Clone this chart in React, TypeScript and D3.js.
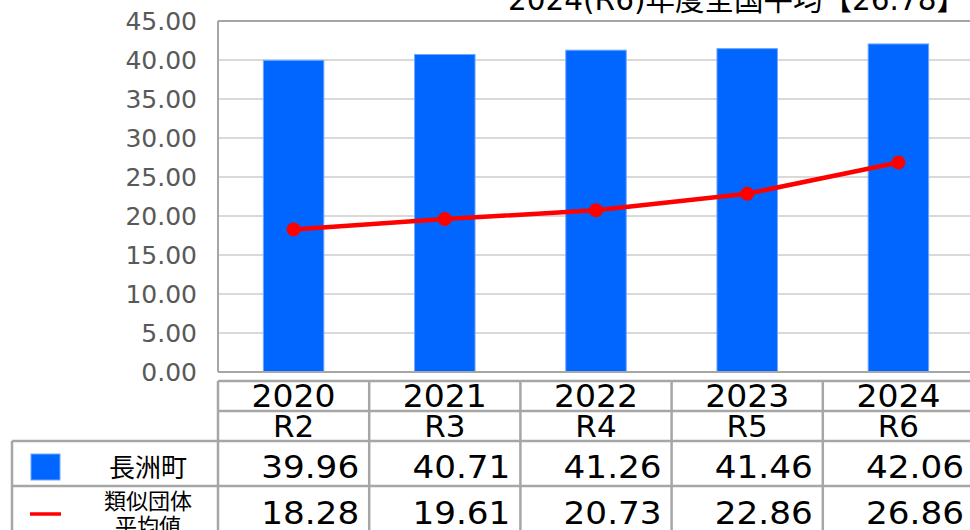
import React from "react";
import * as d3 from "d3";

const years = ["2020", "2021", "2022", "2023", "2024"];
const eras = ["R2", "R3", "R4", "R5", "R6"];
const townValues = [39.96, 40.71, 41.26, 41.46, 42.06];
const avgValues = [18.28, 19.61, 20.73, 22.86, 26.86];
const yTicks = [0, 5, 10, 15, 20, 25, 30, 35, 40, 45];
const seriesNames = ["長洲町", "類似団体\n平均値"];
const title = "2024(R6)年度全国平均【26.78】";

const W = 970;
const H = 530;
const plotLeft = 218;
const plotRight = 974;
const plotTop = 21;
const plotBottom = 372;

const FONT = "'DejaVu Sans', 'Noto Sans CJK JP', sans-serif";
const GRID = "#d9d9d9";
const BORDER = "#a6a6a6";
const BLUE = "#0066ff";
const RED = "#ff0000";

export default function App() {
  const x = d3.scaleBand<string>().domain(years).range([plotLeft, plotRight]).padding(0);
  const y = d3.scaleLinear().domain([0, 45]).range([plotBottom, plotTop]);
  const bw = x.bandwidth();
  const barW = bw * 0.4;
  const cx = (yr: string) => (x(yr) as number) + bw / 2;

  const line = d3
    .line<number>()
    .x((_, i) => cx(years[i]))
    .y((v) => y(v));

  const row1Top = 381;
  const row2Top = 411;
  const row3Top = 441;
  const row4Top = 486;
  const row4Bot = 531;
  const legendLeft = 12;

  return (
    <svg
      width={W}
      height={H}
      style={{ position: "absolute", left: 0, top: 0, background: "#fff" }}
      fontFamily={FONT}
    >
      <rect x={0} y={0} width={W} height={H} fill="#fff" />
      {/* title */}
      <text x={966} y={10} fontSize={29.5} textAnchor="end" fill="#000" textLength={458} lengthAdjust="spacingAndGlyphs">
        {title}
      </text>
      {/* grid */}
      {yTicks.map((t) => (
        <line key={t} x1={plotLeft} x2={plotRight} y1={y(t)} y2={y(t)} stroke={GRID} strokeWidth={2} />
      ))}
      {/* y labels */}
      {yTicks.map((t) => (
        <text
          key={"l" + t}
          x={197}
          y={y(t)}
          dy="0.36em"
          fontSize={25}
          textAnchor="end"
          fill="#595959"
        >
          {t.toFixed(2)}
        </text>
      ))}
      {/* bars */}
      {townValues.map((v, i) => (
        <rect
          key={"b" + i}
          x={cx(years[i]) - barW / 2}
          y={y(v)}
          width={barW}
          height={y(0) - y(v)}
          fill={BLUE}
          stroke="#6fa8ff"
          strokeWidth={1}
        />
      ))}
      {/* frame */}
      <line x1={plotLeft} x2={plotRight} y1={plotTop} y2={plotTop} stroke={BORDER} strokeWidth={2} />
      <line x1={plotLeft} x2={plotLeft} y1={plotTop} y2={plotBottom} stroke={BORDER} strokeWidth={2} />
      <line x1={plotLeft} x2={plotRight} y1={plotBottom} y2={plotBottom} stroke={BORDER} strokeWidth={2} />
      {/* line */}
      <path d={line(avgValues) || ""} fill="none" stroke={RED} strokeWidth={4.5} strokeLinejoin="round" />
      {avgValues.map((v, i) => (
        <circle key={"c" + i} cx={cx(years[i])} cy={y(v)} r={7} fill={RED} />
      ))}

      {/* table grid */}
      <g stroke={BORDER} strokeWidth={2.5} fill="none">
        <line x1={plotLeft} x2={plotRight} y1={row1Top} y2={row1Top} />
        <line x1={plotLeft} x2={plotRight} y1={row2Top} y2={row2Top} />
        <line x1={legendLeft} x2={plotRight} y1={row3Top} y2={row3Top} />
        <line x1={legendLeft} x2={plotRight} y1={row4Top} y2={row4Top} />
        <line x1={legendLeft} x2={legendLeft} y1={row3Top} y2={row4Bot} />
        {years.map((yr) => (
          <line key={"v" + yr} x1={x(yr)} x2={x(yr)} y1={row1Top} y2={row4Bot} />
        ))}
        <line x1={plotRight} x2={plotRight} y1={row1Top} y2={row4Bot} />
      </g>
      {/* header text */}
      {years.map((yr, i) => (
        <g key={"h" + yr}>
          <text x={cx(yr)} y={407} fontSize={32} textAnchor="middle" fill="#000" textLength={84} lengthAdjust="spacingAndGlyphs">
            {yr}
          </text>
          <text x={cx(yr)} y={437} fontSize={31} textAnchor="middle" fill="#000">
            {eras[i]}
          </text>
          <text x={(x(yr) as number) + bw - 10} y={478} fontSize={32.5} textAnchor="end" fill="#000" textLength={98} lengthAdjust="spacingAndGlyphs">
            {townValues[i].toFixed(2)}
          </text>
          <text x={(x(yr) as number) + bw - 10} y={524} fontSize={32.5} textAnchor="end" fill="#000" textLength={98} lengthAdjust="spacingAndGlyphs">
            {avgValues[i].toFixed(2)}
          </text>
        </g>
      ))}
      {/* legend */}
      <rect x={31} y={454} width={29} height={26} fill={BLUE} stroke="#6fa8ff" strokeWidth={1} />
      <text x={148} y={477} fontSize={26} textAnchor="middle" fill="#000">
        {seriesNames[0]}
      </text>
      <line x1={30} x2={61} y1={514} y2={514} stroke={RED} strokeWidth={3.5} />
      {seriesNames[1].split("\n").map((s, k) => (
        <text key={"s" + k} x={148} y={509 + k * 25} fontSize={22} textAnchor="middle" fill="#000">
          {s}
        </text>
      ))}
    </svg>
  );
}
